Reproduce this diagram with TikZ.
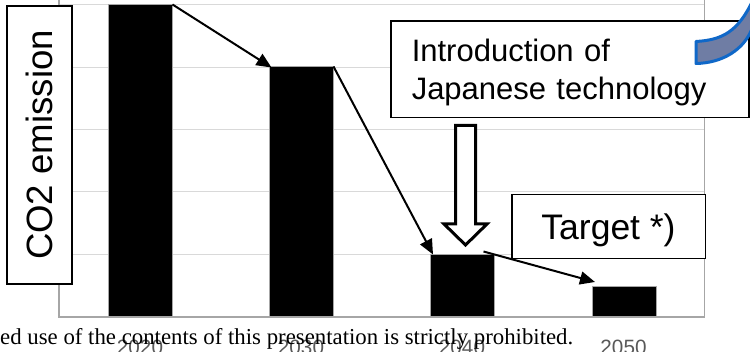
\documentclass[tikz,border=0pt]{standalone}
\usepackage{fontspec}
\setmainfont{Liberation Serif}
\setsansfont{Liberation Sans}
\usetikzlibrary{arrows.meta}

\definecolor{gridgray}{HTML}{D9D9D9}
\definecolor{framegray}{HTML}{A6A6A6}
\definecolor{yeargray}{HTML}{595959}
\definecolor{slatefill}{HTML}{6F7DA4}
\definecolor{calloutblue}{HTML}{1068C8}

\tikzset{
  gridline/.style={draw=gridgray, line width=1pt},
  plotframe/.style={draw=framegray, line width=1.3pt},
  bar/.style={fill=black, draw=framegray, line width=0.5pt, inner sep=0pt,
              minimum width=64pt, anchor=south west},
  conn/.style={draw=black, line width=2pt,
               -{Triangle[length=15pt,width=13pt]}},
  labelbox/.style={draw=black, fill=white, line width=1.5pt, inner sep=0pt},
  yearlabel/.style={text=yeargray, font=\sffamily\fontsize{20.7}{24}\selectfont,
                    anchor=base, inner sep=0pt},
  hollow/.style={draw=black, fill=white, line width=3pt, line join=miter},
  banner/.style={fill=slatefill, draw=calloutblue, line width=3pt, line join=round}
}

\begin{document}
\begin{tikzpicture}[x=1pt,y=-1pt]
  \clip (0,0) rectangle (750,352);
  \fill[white] (0,0) rectangle (750,352);

  % horizontal gridlines of the chart
  \foreach \gy in {4.7,67.3,129.7,192,254.7}
    \draw[gridline] (59,\gy) -- (704.5,\gy);

  % chart frame
  \draw[plotframe] (59,-2) -- (59,317) -- (704.5,317) -- (704.5,-2);

  % emission bars
  \node[bar, minimum height=312pt] (b2020) at (108,317) {};
  \node[bar, minimum height=250pt] (b2030) at (269,317) {};
  \node[bar, minimum height=62pt]  (b2040) at (430,317) {};
  \node[bar, minimum height=30.5pt] (b2050) at (591.5,317) {};

  % year labels
  \node[yearlabel] (y2020) at (140,355) {2020};
  \node[yearlabel] (y2030) at (301,355) {2030};
  \node[yearlabel] (y2040) at (462,355) {2040};
  \node[yearlabel] (y2050) at (623.5,355) {2050};

  % trend arrows between bars
  \draw[conn] (b2020.north east) -- ([xshift=2.5pt,yshift=-1pt]b2030.north west);
  \draw[conn] (b2030.north east) -- ([xshift=3pt]b2040.north west);
  \draw[conn] ([xshift=-11pt,yshift=3pt]b2040.north east) --
              ([xshift=3.5pt,yshift=4pt]b2050.north west);

  % axis title
  \node[labelbox, rotate=90, minimum width=278pt, minimum height=65pt,
        font=\sffamily\fontsize{36.6}{40}\selectfont]
    (ytitle) at (39.5,145) {CO2 emission};

  % technology call-out
  \node[labelbox, anchor=north west, minimum width=358pt, minimum height=96.5pt,
        text width=316pt, inner xsep=21pt, align=left, text height=29pt,
        font=\sffamily\fontsize{31}{38}\selectfont]
    (tech) at (390,20.5)
    {Introduction of\\Japanese technology};

  % hollow arrow from the call-out down to the 2040 bar
  \draw[hollow] (455.5,125.5) -- (475.5,125.5) -- (475.5,224) -- (487,224)
                -- (465.5,245) -- (444,224) -- (455.5,224) -- cycle;

  % target box
  \node[labelbox, anchor=north west, minimum width=193.5pt, minimum height=64pt,
        text depth=0pt, font=\sffamily\fontsize{35.5}{40}\selectfont]
    (target) at (511,194) {Target *)};

  % curved banner entering from the top right
  \draw[banner] (696,41.5) .. controls (722,40) and (738,32) .. (753,0)
                -- (753,26) .. controls (745,50) and (722,63) .. (696,63.5) -- cycle;

  % footer notice
  \node[anchor=base west, inner sep=0pt, font=\fontsize{22.8}{26}\selectfont]
    (footer) at (0,345) {ed use of the contents of this presentation is strictly prohibited.};
\end{tikzpicture}
\end{document}
